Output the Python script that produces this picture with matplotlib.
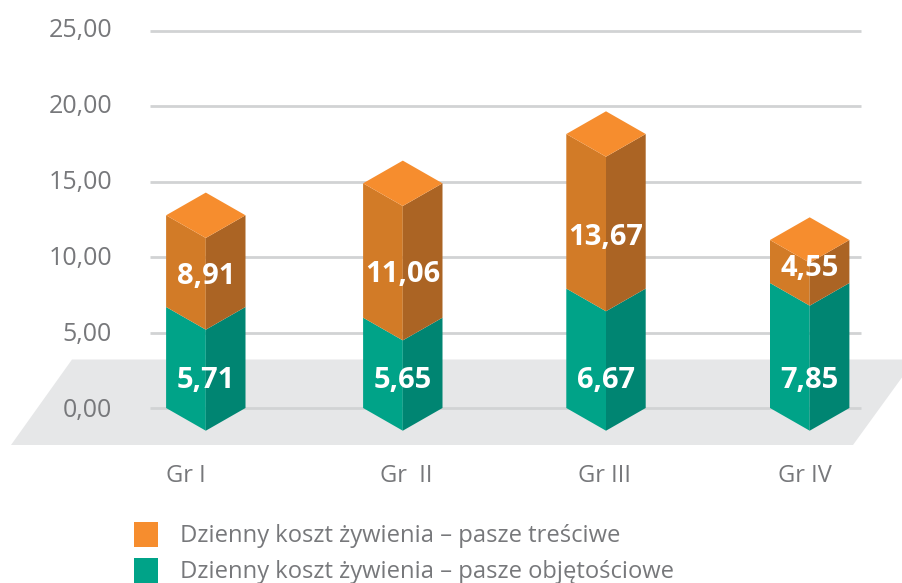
import matplotlib
matplotlib.use("Agg")
import matplotlib.pyplot as plt
from matplotlib.patches import Polygon, Rectangle

# Data
groups = ["Gr I", "Gr  II", "Gr III", "Gr IV"]
label_concentrate = ["8,91", "11,06", "13,67", "4,55"]
label_roughage = ["5,71", "5,65", "6,67", "7,85"]
# segment heights as they are drawn in the picture, read against the y axis
drawn_roughage = [6.70, 5.99, 7.92, 8.29]
drawn_concentrate = [6.08, 8.91, 10.25, 2.85]
y_ticks = [0, 5, 10, 15, 20, 25]
y_tick_labels = ["0,00", "5,00", "10,00", "15,00", "20,00", "25,00"]
legend_labels = ["Dzienny koszt żywienia – pasze treściwe",
                 "Dzienny koszt żywienia – pasze objętościowe"]

# Layout / style
W, H = 902, 583
PX_Y = 15.08
Y0_PX = 408
plt.rcParams["font.family"] = ["Open Sans", "DejaVu Sans"]
GREY = "#77787B"
OR_TOP, OR_L, OR_R = "#F68D2E", "#D27B27", "#AB6424"
TE_L, TE_R = "#00A388", "#008572"
cat_pos = [205.8, 402.8, 606.0, 809.7]
HALF = 39.7
DEPTH = 22.7 / PX_Y

fig = plt.figure(figsize=(W / 100, H / 100), dpi=100, facecolor="white")
ax = fig.add_axes([0, 0, 1, 1])
ax.set_xlim(0, W)
ax.set_ylim((Y0_PX - H) / PX_Y, Y0_PX / PX_Y)
ax.axis("off")

# floor
fy = lambda p: (Y0_PX - p) / PX_Y
ax.add_patch(Polygon([(72, fy(359.5)), (W + 13, fy(359.5)), (853, fy(445)), (11, fy(445))],
                     closed=True, fc="#E6E7E8", ec="none", zorder=1))
# grid
for t, lab in zip(y_ticks, y_tick_labels):
    ax.plot([150, 861], [t, t], color="#D1D3D4", lw=2.0, solid_capstyle="butt", zorder=2)
    ax.text(112, fy(410.5 - t * 15.2), lab, ha="right", va="center", fontsize=18, color=GREY, zorder=5)


def prism_side(x, y0, y1, colors):
    ax.add_patch(Polygon([(x - HALF, y0), (x, y0 - DEPTH), (x, y1 - DEPTH), (x - HALF, y1)],
                         closed=True, fc=colors[0], ec="none", zorder=3))
    ax.add_patch(Polygon([(x, y0 - DEPTH), (x + HALF, y0), (x + HALF, y1), (x, y1 - DEPTH)],
                         closed=True, fc=colors[1], ec="none", zorder=3))


for i, x in enumerate(cat_pos):
    a = drawn_roughage[i]
    b = a + drawn_concentrate[i]
    prism_side(x, 0, a, (TE_L, TE_R))
    prism_side(x, a, b, (OR_L, OR_R))
    ax.add_patch(Polygon([(x - HALF, b), (x, b - DEPTH), (x + HALF, b), (x, b + DEPTH)],
                         closed=True, fc=OR_TOP, ec="none", zorder=4))
    ax.text(x, fy(380), label_roughage[i], ha="center", va="center", fontsize=21,
            fontweight="bold", color="white", zorder=6)
    ypx = [276.5, 274.5, 237.5, 268.5][i]
    ax.text(x, fy(ypx), label_concentrate[i], ha="center", va="center", fontsize=21,
            fontweight="bold", color="white", zorder=6)
    ax.text([185.5, 406.5, 604.5, 804.5][i], fy(476), groups[i], ha="center", va="center",
            fontsize=17, color=GREY, zorder=5)

# legend
for lab, col, top, ty in zip(legend_labels, [OR_TOP, TE_L], [522, 558], [535.5, 572.5]):
    ax.add_patch(Rectangle((134, fy(top + 25)), 24, 25 / PX_Y, fc=col, ec="none", zorder=5))
    ax.text(180, fy(ty), lab, ha="left", va="center", fontsize=17.1, color=GREY, zorder=5)

fig.savefig("out.png", dpi=100, facecolor="white")
